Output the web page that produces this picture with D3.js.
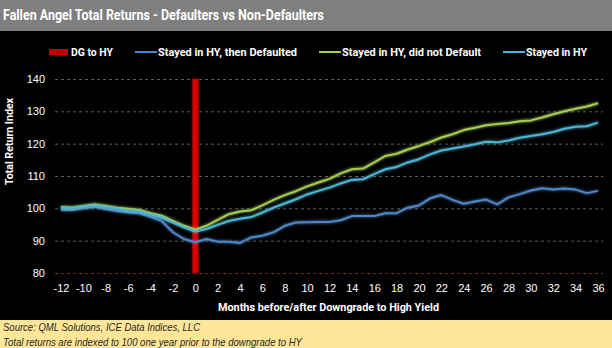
<!DOCTYPE html>
<html>
<head>
<meta charset="utf-8">
<script src="https://cdn.jsdelivr.net/npm/d3@7"></script>
<style>
    body { margin: 0; background: #fff; }
    svg { display: block; }
    .cond { font-family: Roboto, "Liberation Sans", sans-serif; font-weight: bold; }
</style>
</head>
<body>
<script>
var months = [-12, -11, -10, -9, -8, -7, -6, -5, -4, -3, -2, -1,
    0, 1, 2, 3, 4, 5, 6, 7, 8, 9, 10, 11, 12,
    13, 14, 15, 16, 17, 18, 19, 20, 21, 22, 23, 24, 25, 26, 27, 28, 29, 30, 31, 32, 33, 34, 35, 36];

var dgMonths = [0];
var dgValues = [140];

var defaulted = [99.5, 99.5, 100.0, 100.5, 99.7, 99.2, 98.7, 98.5, 97.4, 96.1, 92.6, 90.5,
    89.5, 90.5, 89.7, 89.7, 89.3, 91.0, 91.5, 92.6, 94.6, 95.6, 95.7, 95.8, 95.8,
    96.3, 97.6, 97.6, 97.6, 98.5, 98.5, 100.2, 100.9, 103.1, 104.1, 102.6, 101.4, 102.1, 102.7, 101.2, 103.4, 104.4, 105.5, 106.2, 105.8, 106.1, 105.8, 104.7, 105.4];

var notDefaulted = [100.4, 100.2, 100.7, 101.2, 100.7, 100.2, 99.9, 99.5, 98.5, 97.7, 96.1, 94.6,
    93.4, 94.6, 96.4, 98.2, 99.0, 99.4, 100.9, 102.6, 104.1, 105.3, 106.8, 108.0, 109.1,
    110.8, 112.1, 112.3, 114.2, 116.2, 116.9, 118.2, 119.3, 120.5, 121.9, 122.9, 124.2, 124.9, 125.7, 126.1, 126.4, 126.9, 127.2, 128.1, 129.1, 130.0, 130.8, 131.5, 132.5];

var stayedHY = [100.2, 100.1, 100.5, 100.9, 100.4, 99.9, 99.2, 99.0, 98.0, 97.1, 95.6, 94.1,
    92.8, 93.6, 94.9, 96.1, 96.8, 97.3, 98.7, 100.2, 101.5, 102.8, 104.3, 105.4, 106.4,
    107.7, 108.8, 109.0, 110.6, 112.1, 112.8, 114.2, 115.2, 116.7, 117.9, 118.5, 119.1, 119.8, 120.6, 120.4, 121.0, 121.8, 122.4, 122.9, 123.6, 124.6, 125.2, 125.4, 126.5];

var xTicks = [-12, -10, -8, -6, -4, -2, 0, 2, 4, 6, 8, 10, 12, 14, 16, 18, 20, 22, 24, 26, 28, 30, 32, 34, 36];
var yTicks = [80, 90, 100, 110, 120, 130, 140];

var titleText = "Fallen Angel Total Returns - Defaulters vs Non-Defaulters";
var footNotes = ["Source: QML Solutions, ICE Data Indices, LLC",
    "Total returns are indexed to 100 one year prior to the downgrade to HY"];

var lineSeries = [
    {name: "Stayed in HY, then Defaulted", values: defaulted, color: "#4f86c6"},
    {name: "Stayed in HY, did not Default", values: notDefaulted, color: "#a6cc52"},
    {name: "Stayed in HY", values: stayedHY, color: "#4db6d3"}
];

var W = 612, H = 348;
var svg = d3.select("body").append("svg")
    .attr("width", W)
    .attr("height", H);

// glow like the excel effect
var defs = svg.append("defs");
var glow = defs.append("filter")
    .attr("id", "glow")
    .attr("x", "-10%").attr("y", "-20%")
    .attr("width", "120%").attr("height", "140%");
glow.append("feGaussianBlur")
    .attr("in", "SourceGraphic")
    .attr("stdDeviation", 1.6)
    .attr("result", "blur");
var merge = glow.append("feMerge");
merge.append("feMergeNode").attr("in", "blur");
merge.append("feMergeNode").attr("in", "SourceGraphic");

// backgrounds
svg.append("rect").attr("width", W).attr("height", H).attr("fill", "#000");
svg.append("rect").attr("width", W).attr("height", 31).attr("fill", "#7f7f7f");
svg.append("rect").attr("y", 320).attr("width", W).attr("height", H - 320).attr("fill", "#ffe699");

// text squeezed to the reference widths (no narrow font installed)
function squeeze(sel, len) {
    sel.attr("textLength", len).attr("lengthAdjust", "spacingAndGlyphs");
    return sel;
}

squeeze(svg.append("text")
    .attr("class", "cond")
    .attr("x", 3)
    .attr("y", 20)
    .attr("fill", "#fff")
    .attr("font-size", 14)
    .text(titleText), 321);

var x = d3.scaleLinear().domain([-12, 36]).range([61, 598]);
var y = d3.scaleLinear().domain([80, 140]).range([273, 79]);

// gridlines
var grid = svg.append("g")
    .attr("transform", "translate(55,0)")
    .call(d3.axisLeft(y).tickValues(yTicks).tickSize(-548).tickFormat(""));
grid.select(".domain").remove();
grid.selectAll("line")
    .attr("stroke", function(d){ return d === 80 ? "#6e2e1c" : "#5c5c5c"; })
    .attr("stroke-width", 1)
    .attr("stroke-dasharray", "3,3");

// y labels
var yAxis = svg.append("g")
    .attr("transform", "translate(45,0)")
    .call(d3.axisLeft(y).tickValues(yTicks).tickSize(0).tickPadding(0));
yAxis.select(".domain").remove();
yAxis.selectAll("text")
    .attr("fill", "#fff")
    .attr("font-family", "Liberation Sans, Arial, sans-serif")
    .attr("font-size", 11);

// x labels
var xAxis = svg.append("g")
    .attr("transform", "translate(0,284)")
    .call(d3.axisBottom(x).tickValues(xTicks).tickSize(0).tickPadding(0)
        .tickFormat(function(d){ return String(d); }));
xAxis.select(".domain").remove();
xAxis.selectAll("text")
    .attr("fill", "#fff")
    .attr("font-family", "Liberation Sans, Arial, sans-serif")
    .attr("font-size", 11);

squeeze(svg.append("text")
    .attr("class", "cond")
    .attr("transform", "translate(13,98) rotate(-90)")
    .attr("text-anchor", "end")
    .attr("fill", "#fff")
    .attr("font-size", 11)
    .text("Total Return Index"), 87);

squeeze(svg.append("text")
    .attr("class", "cond")
    .attr("x", 218)
    .attr("y", 311)
    .attr("fill", "#fff")
    .attr("font-size", 11.5)
    .text("Months before/after Downgrade to High Yield"), 221);

// DG to HY column
svg.selectAll(".dg")
    .data(dgMonths)
    .enter().append("rect")
    .attr("class", "dg")
    .attr("x", function(d){ return x(d) - 3; })
    .attr("width", 6)
    .attr("y", function(d, i){ return y(dgValues[i]); })
    .attr("height", function(d, i){ return y(80) - y(dgValues[i]); })
    .attr("fill", "#dd0000")
    .attr("stroke", "#8f0000")
    .attr("stroke-width", 1);

var line = d3.line()
    .x(function(d, i){ return x(months[i]); })
    .y(function(d){ return y(d); });

svg.selectAll(".series")
    .data(lineSeries)
    .enter().append("path")
    .attr("class", "series")
    .attr("d", function(d){ return line(d.values); })
    .attr("fill", "none")
    .attr("stroke", function(d){ return d.color; })
    .attr("stroke-width", 2)
    .attr("stroke-linejoin", "round")
    .attr("filter", "url(#glow)");

// legend
var legend = svg.append("g").attr("class", "cond").attr("font-size", 11.5).attr("fill", "#fff");
legend.append("rect")
    .attr("x", 49).attr("y", 49)
    .attr("width", 19).attr("height", 6)
    .attr("fill", "#c00000");
squeeze(legend.append("text").attr("x", 71).attr("y", 56).text("DG to HY"), 42);

var legendX = [135, 319, 503];
var legendLen = [139, 139, 61];
lineSeries.forEach(function(s, i){
    legend.append("line")
        .attr("x1", legendX[i]).attr("x2", legendX[i] + 22)
        .attr("y1", 52).attr("y2", 52)
        .attr("stroke", s.color)
        .attr("stroke-width", 2);
    squeeze(legend.append("text")
        .attr("x", legendX[i] + 23)
        .attr("y", 56)
        .text(s.name), legendLen[i]);
});

// footer
var footLen = [197, 299];
svg.selectAll(".foot")
    .data(footNotes)
    .enter().append("text")
    .attr("class", "foot")
    .attr("x", 3)
    .attr("y", function(d, i){ return 331 + i * 15; })
    .attr("font-family", "Liberation Sans, Arial, sans-serif")
    .attr("font-style", "italic")
    .attr("font-size", 10.5)
    .attr("fill", "#262626")
    .attr("textLength", function(d, i){ return footLen[i]; })
    .attr("lengthAdjust", "spacingAndGlyphs")
    .text(function(d){ return d; });
</script>
</body>
</html>
